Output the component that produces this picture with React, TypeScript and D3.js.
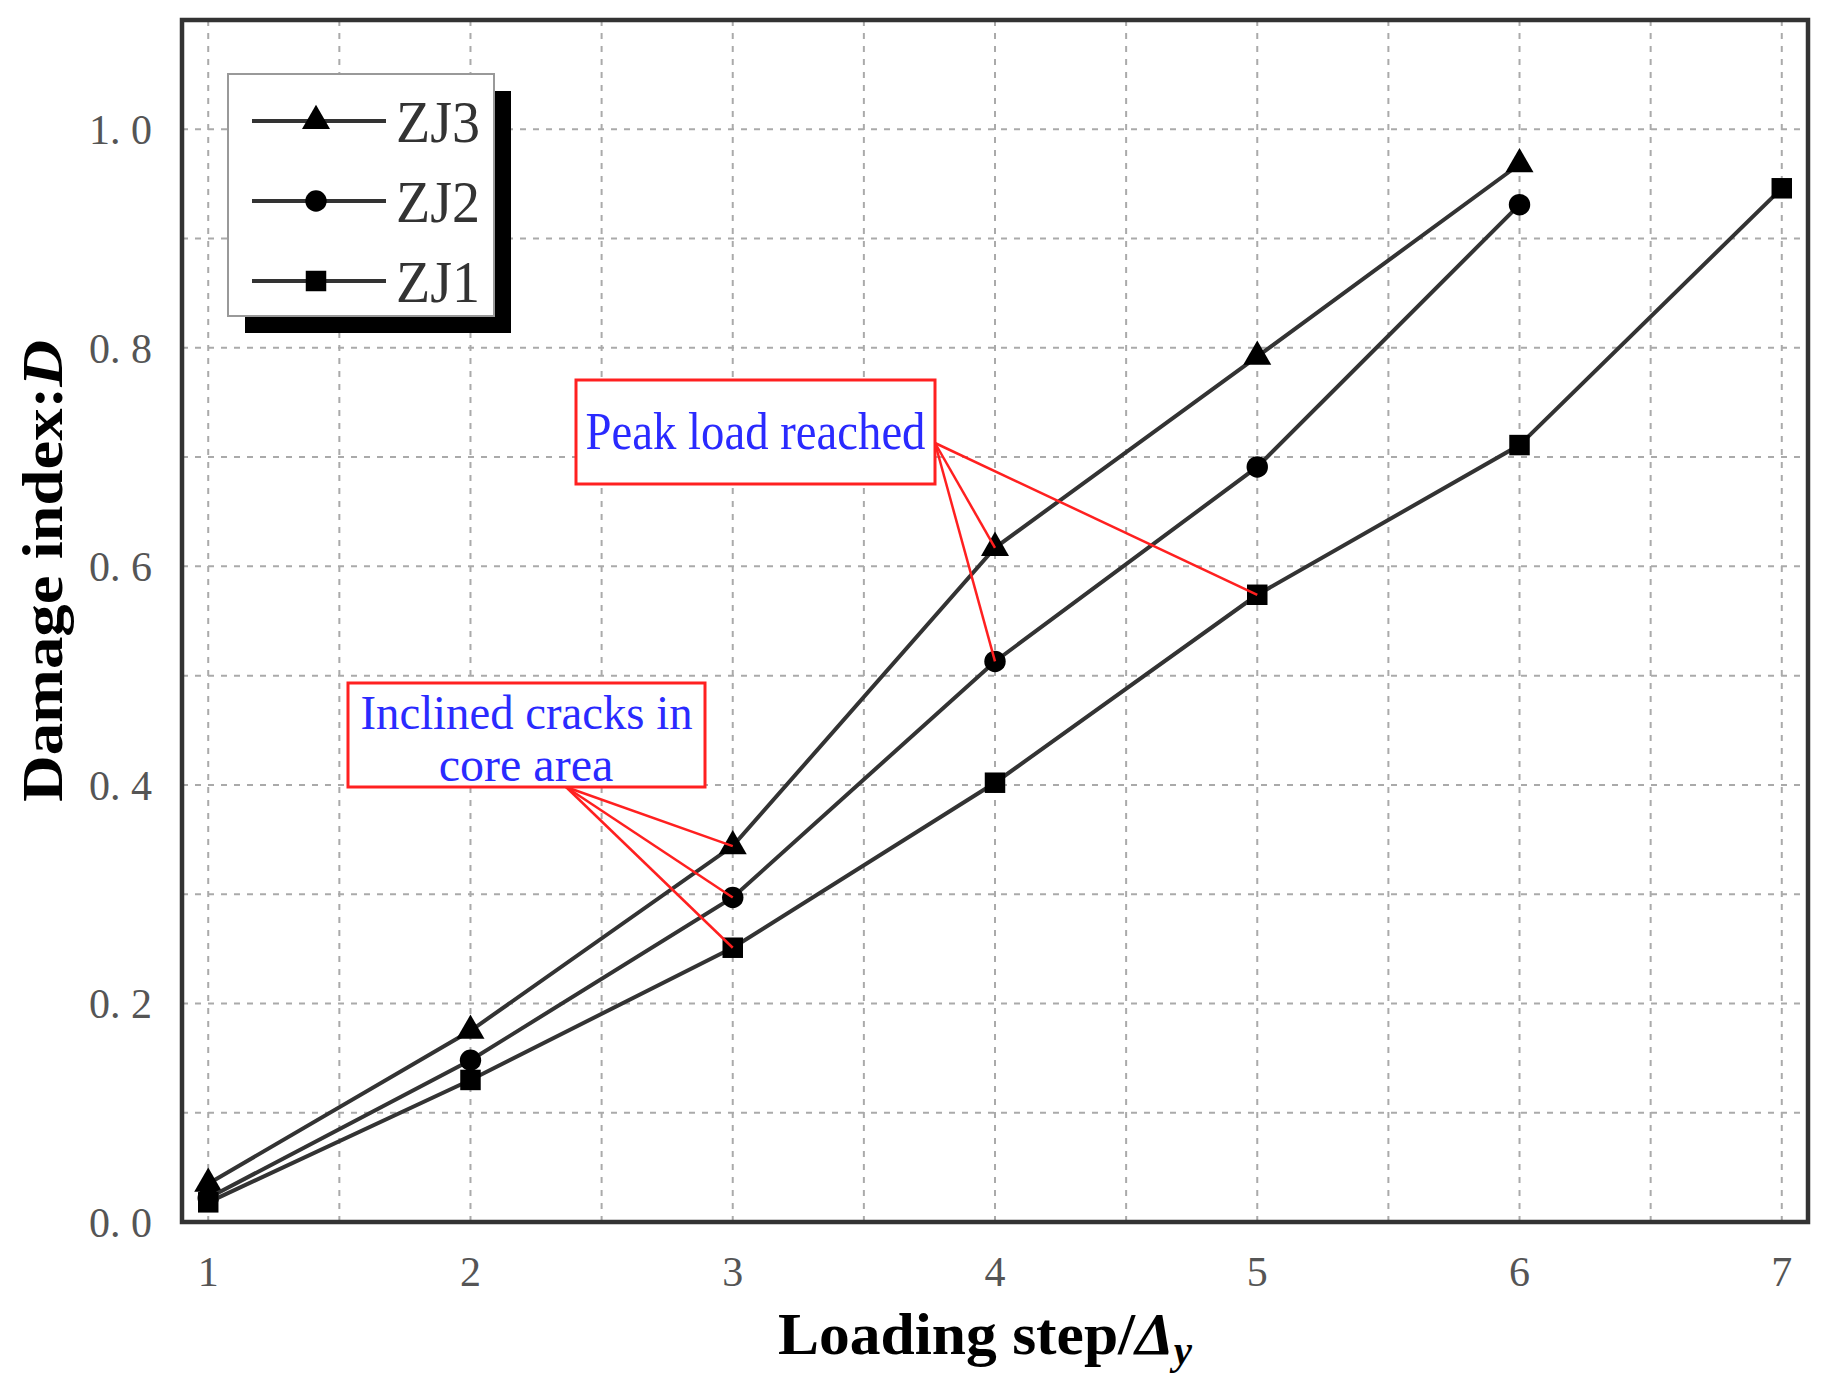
import { useEffect, useRef } from 'react';
import * as d3 from 'd3';

// loading steps (x) and damage index per specimen
const steps = [1, 2, 3, 4, 5, 6, 7];
const zj3 = [0.035, 0.175, 0.344, 0.617, 0.792, 0.968];
const zj2 = [0.022, 0.148, 0.297, 0.513, 0.691, 0.931];
const zj1 = [0.018, 0.130, 0.251, 0.402, 0.574, 0.711, 0.946];

const yTicks = [0, 0.2, 0.4, 0.6, 0.8, 1.0];
const seriesNames = ['ZJ3', 'ZJ2', 'ZJ1'];

export default function App() {
  const ref = useRef<SVGSVGElement>(null);

  useEffect(() => {
    document.body.style.margin = '0';
    const W = 1837, H = 1390;
    const margin = { top: 20, right: 29, bottom: 168, left: 182 };
    const svg = d3.select(ref.current);
    svg.selectAll('*').remove();

    const x = d3.scaleLinear().domain([0.9, 7.1]).range([margin.left, W - margin.right]);
    const y = d3.scaleLinear().domain([0, 1.1]).range([H - margin.bottom, margin.top]);
    const serif = '"Liberation Serif", "Times New Roman", serif';

    // dashed grid
    const grid = svg.append('g').attr('stroke', '#aaa').attr('stroke-width', 2).attr('stroke-dasharray', '6,7');
    d3.range(1, 7.01, 0.5).forEach(v => {
      grid.append('line').attr('x1', x(v)).attr('x2', x(v)).attr('y1', y(0)).attr('y2', y(1.1));
    });
    d3.range(0.1, 1.05, 0.1).forEach(v => {
      grid.append('line').attr('x1', x(0.9)).attr('x2', x(7.1)).attr('y1', y(v)).attr('y2', y(v));
    });

    // frame
    svg.append('rect')
      .attr('x', x(0.9)).attr('y', y(1.1))
      .attr('width', x(7.1) - x(0.9)).attr('height', y(0) - y(1.1))
      .attr('fill', 'none').attr('stroke', '#333').attr('stroke-width', 4.5);

    // tick labels
    svg.append('g').selectAll('text').data(yTicks).enter().append('text')
      .attr('x', margin.left - 30).attr('y', d => y(d) + 15)
      .attr('text-anchor', 'end').style('font-family', serif).style('font-size', '42px').style('fill', '#555')
      .text(d => d.toFixed(1).replace('.', '. '));
    svg.append('g').selectAll('text').data(steps).enter().append('text')
      .attr('x', d => x(d)).attr('y', y(0) + 64)
      .attr('text-anchor', 'middle').style('font-family', serif).style('font-size', '42px').style('fill', '#555')
      .text(d => d);

    // axis titles
    const xt = svg.append('text').attr('x', 985).attr('y', 1354).attr('text-anchor', 'middle')
      .attr('textLength', 414).attr('lengthAdjust', 'spacingAndGlyphs')
      .style('font-family', serif).style('font-size', '60px').style('font-weight', 'bold').style('fill', '#000');
    xt.append('tspan').text('Loading step/');
    xt.append('tspan').style('font-style', 'italic').text('Δ');
    xt.append('tspan').style('font-style', 'italic').style('font-size', '40px').attr('dy', 10).text('y');

    const yt = svg.append('text').attr('transform', 'translate(62,571) rotate(-90)')
      .attr('text-anchor', 'middle').attr('textLength', 462).attr('lengthAdjust', 'spacingAndGlyphs')
      .style('font-family', serif).style('font-size', '58px').style('font-weight', 'bold').style('fill', '#000');
    yt.append('tspan').text('Damage index:');
    yt.append('tspan').style('font-style', 'italic').text('D');

    // series
    const line = d3.line<[number, number]>().x(d => x(d[0])).y(d => y(d[1]));
    const all = [zj3, zj2, zj1];
    const symbols = [d3.symbolTriangle, d3.symbolCircle, d3.symbolSquare];
    const sizes = [340, 360, 420];
    all.forEach((vals, i) => {
      const pts = vals.map((v, j) => [steps[j], v] as [number, number]);
      svg.append('path').attr('d', line(pts)).attr('fill', 'none').attr('stroke', '#333').attr('stroke-width', 4);
      svg.append('g').selectAll('path').data(pts).enter().append('path')
        .attr('transform', d => `translate(${x(d[0])},${y(d[1])})`)
        .attr('d', d3.symbol().type(symbols[i]).size(sizes[i])()).attr('fill', '#000');
    });

    // legend
    const lg = svg.append('g');
    lg.append('rect').attr('x', 245).attr('y', 91).attr('width', 266).attr('height', 242).attr('fill', '#000');
    lg.append('rect').attr('x', 228).attr('y', 74).attr('width', 266).attr('height', 242)
      .attr('fill', '#fff').attr('stroke', '#999').attr('stroke-width', 2);
    seriesNames.forEach((name, i) => {
      const cy = 121 + i * 80;
      lg.append('line').attr('x1', 252).attr('x2', 386).attr('y1', cy).attr('y2', cy).attr('stroke', '#333').attr('stroke-width', 4);
      lg.append('path').attr('transform', `translate(316,${cy})`)
        .attr('d', d3.symbol().type(symbols[i]).size(sizes[i])()).attr('fill', '#000');
      lg.append('text').attr('x', 396).attr('y', cy + 21).attr('textLength', 84).attr('lengthAdjust', 'spacingAndGlyphs')
        .style('font-family', serif).style('font-size', '60px').style('fill', '#333').text(name);
    });

    // annotations
    const red = '#ff2020', blue = '#2a2aff';
    const peak = { x: 576, y: 380, w: 359, h: 104 };
    const peakFrom = [935, 443];
    [[4, zj3[3]], [4, zj2[3]], [5, zj1[4]]].forEach(p => {
      svg.append('line').attr('x1', peakFrom[0]).attr('y1', peakFrom[1]).attr('x2', x(p[0])).attr('y2', y(p[1]))
        .attr('stroke', red).attr('stroke-width', 2.5);
    });
    svg.append('rect').attr('x', peak.x).attr('y', peak.y).attr('width', peak.w).attr('height', peak.h)
      .attr('fill', '#fff').attr('stroke', red).attr('stroke-width', 3);
    svg.append('text').attr('x', peak.x + peak.w / 2).attr('y', 449).attr('text-anchor', 'middle')
      .attr('textLength', 340).attr('lengthAdjust', 'spacingAndGlyphs')
      .style('font-family', serif).style('font-size', '52px').style('fill', blue).text('Peak load reached');

    const crack = { x: 348, y: 683, w: 357, h: 104 };
    const crackFrom = [566, 787];
    [[3, zj3[2]], [3, zj2[2]], [3, zj1[2]]].forEach(p => {
      svg.append('line').attr('x1', crackFrom[0]).attr('y1', crackFrom[1]).attr('x2', x(p[0])).attr('y2', y(p[1]))
        .attr('stroke', red).attr('stroke-width', 2.5);
    });
    svg.append('rect').attr('x', crack.x).attr('y', crack.y).attr('width', crack.w).attr('height', crack.h)
      .attr('fill', '#fff').attr('stroke', red).attr('stroke-width', 3);
    svg.append('text').attr('x', crack.x + crack.w / 2).attr('y', 729).attr('text-anchor', 'middle')
      .attr('textLength', 332).attr('lengthAdjust', 'spacingAndGlyphs')
      .style('font-family', serif).style('font-size', '48px').style('fill', blue).text('Inclined cracks in');
    svg.append('text').attr('x', 526).attr('y', 781).attr('text-anchor', 'middle')
      .style('font-family', serif).style('font-size', '48px').style('fill', blue).text('core area');
  }, []);

  return <svg ref={ref} width={1837} height={1390} style={{ display: 'block', background: '#fff' }} />;
}
